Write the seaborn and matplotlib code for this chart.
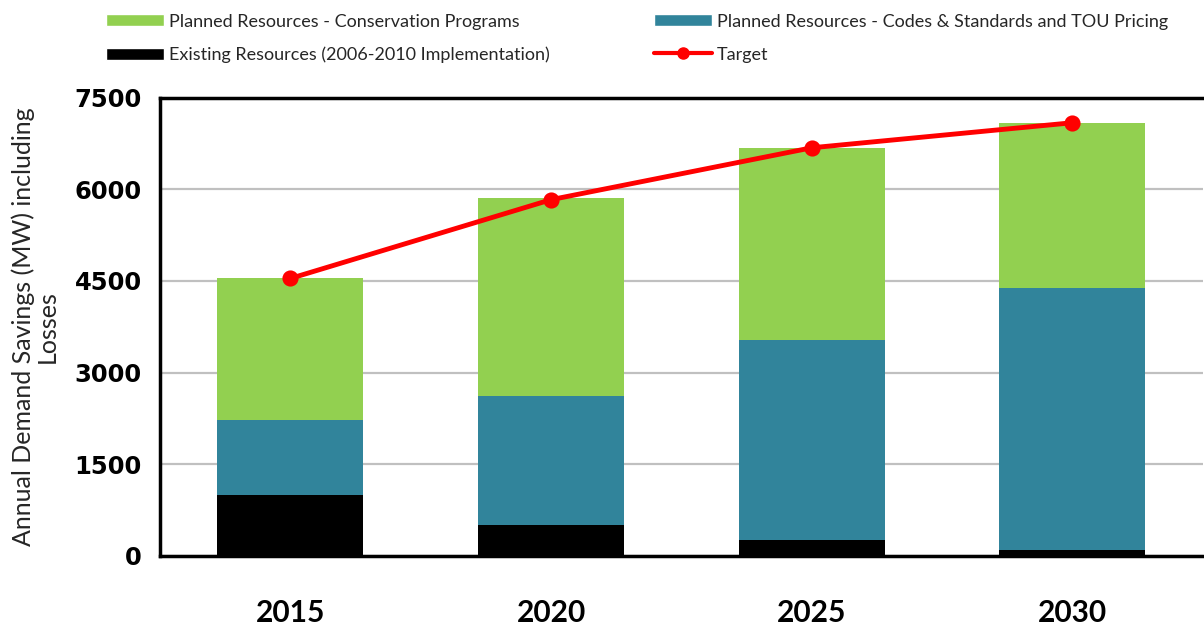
import numpy as np
import pandas as pd
import matplotlib
matplotlib.use("Agg")
import matplotlib.pyplot as plt
import seaborn as sns
from matplotlib.patches import Patch
from matplotlib.lines import Line2D

# Data (MW)
years = ["2015", "2020", "2025", "2030"]
existing = [1000, 500, 250, 100]
codes_standards = [1230, 2120, 3280, 4290]
conservation = [2310, 3230, 3150, 2690]
target = [4540, 5830, 6680, 7090]

y_ticks = [0, 1500, 3000, 4500, 6000, 7500]

GREEN = "#92D050"
TEAL = "#31849B"
RED = "#FF0000"

df = pd.DataFrame({
    "Year": years,
    "Existing": existing,
    "Codes": codes_standards,
    "Conservation": conservation,
    "Target": target,
})
# cumulative tops for stacking
df["Top_codes"] = df["Existing"] + df["Codes"]
df["Top_all"] = df["Top_codes"] + df["Conservation"]

sns.set_style("white")
plt.rcParams["font.family"] = ["Lato", "DejaVu Sans"]

fig = plt.figure(figsize=(12.04, 6.29), dpi=100)
ax = fig.add_axes([0.1329, 0.1165, 0.8661, 0.7282])

bw = 0.56
sns.barplot(data=df, x="Year", y="Top_all", color=GREEN, width=bw,
            saturation=1, ax=ax, zorder=2)
sns.barplot(data=df, x="Year", y="Top_codes", color=TEAL, width=bw,
            saturation=1, ax=ax, zorder=2)
sns.barplot(data=df, x="Year", y="Existing", color="black", width=bw,
            saturation=1, ax=ax, zorder=2)
for p in ax.patches:
    p.set_edgecolor("none")

sns.pointplot(data=df, x="Year", y="Target", color=RED, markers="o",
              markersize=9, linewidth=3.5, ax=ax, zorder=4)

ax.set_xlim(-0.5, 3.5)
ax.set_ylim(0, 7500)
ax.set_yticks(y_ticks)
ax.set_yticklabels([str(v) for v in y_ticks],
                   fontdict={"family": "DejaVu Sans", "size": 17.5, "weight": "bold"})
ax.yaxis.grid(True, color="#c0c0c0", linewidth=1.6, zorder=0)
ax.set_axisbelow(True)

# category labels without ticks, boundary ticks as minor
ax.set_xticks(range(len(years)))
ax.set_xticklabels(years, fontsize=21.5, fontweight="bold")
ax.tick_params(axis="x", which="major", length=0, pad=31)
ax.set_xticks(np.arange(-0.5, len(years), 1.0), minor=True)
ax.tick_params(axis="x", which="minor", length=12, width=2.5,
               direction="out", color="black")
ax.tick_params(axis="y", length=10, width=2.5, direction="out",
               color="black", pad=3)
ax.tick_params(axis="both", colors="black")

for side in ["left", "bottom", "top"]:
    ax.spines[side].set_visible(True)
    ax.spines[side].set_color("black")
    ax.spines[side].set_linewidth(2.5)
ax.spines["right"].set_visible(False)

ax.set_xlabel("")
ax.set_ylabel("Annual Demand Savings (MW) including\nLosses", fontsize=18,
              linespacing=1.05, va="center")
ax.yaxis.set_label_coords(-0.1198, 0.5)

leg_font = {"family": ["Lato", "DejaVu Sans"], "size": 13}
left_handles = [
    Patch(facecolor=GREEN, label="Planned Resources - Conservation Programs"),
    Patch(facecolor="black", label="Existing Resources (2006-2010 Implementation)"),
]
right_handles = [
    Patch(facecolor=TEAL, label="Planned Resources - Codes & Standards and TOU Pricing"),
    Line2D([0], [0], color=RED, lw=3, marker="o", markersize=8, label="Target"),
]
for hs, x0 in [(left_handles, 0.082), (right_handles, 0.537)]:
    fig.legend(handles=hs, ncol=1, loc="upper left",
               bbox_to_anchor=(x0, 0.99), frameon=False, prop=leg_font,
               handlelength=3.2, handleheight=0.65, handletextpad=0.3,
               labelspacing=0.95, borderaxespad=0)

fig.savefig("out.png", dpi=100)
